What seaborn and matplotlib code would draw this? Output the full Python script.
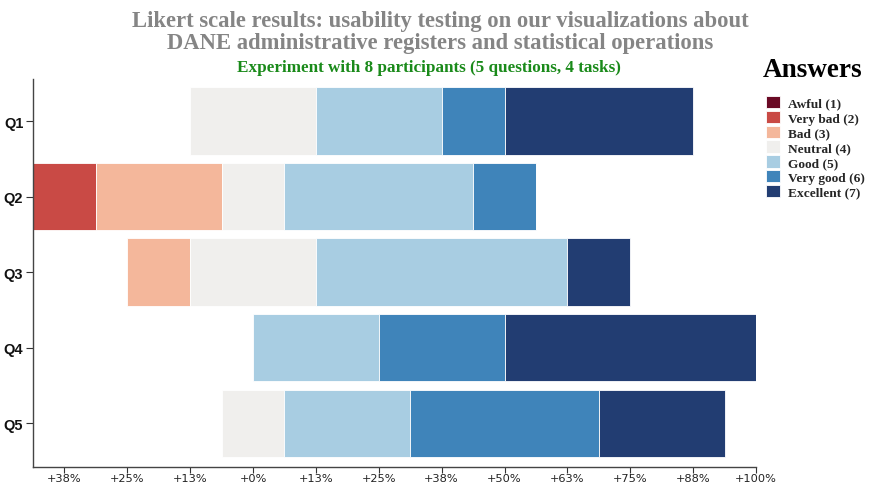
import numpy as np
import pandas as pd
import seaborn as sns
import matplotlib.pyplot as plt

questions = ['Q1', 'Q2', 'Q3', 'Q4', 'Q5']
answers = ['Awful (1)', 'Very bad (2)', 'Bad (3)', 'Neutral (4)',
           'Good (5)', 'Very good (6)', 'Excellent (7)']
# number of participants per answer (8 participants)
awful = [0, 0, 0, 0, 0]
very_bad = [0, 1, 0, 0, 0]
bad = [0, 2, 1, 0, 0]
neutral = [2, 1, 2, 0, 1]
good = [2, 3, 4, 2, 2]
very_good = [1, 1, 0, 2, 3]
excellent = [3, 0, 1, 4, 2]
n_participants = 8
tick_values = [-37.5, -25, -12.5, 0, 12.5, 25, 37.5, 50, 62.5, 75, 87.5, 100]

colors = ['#6a0a25', '#c94a45', '#f4b79b', '#f0efed', '#a8cde2', '#3f84ba', '#223d72']

counts = pd.DataFrame(np.array([awful, very_bad, bad, neutral, good, very_good, excellent]).T,
                      index=questions, columns=answers)
pct = counts / n_participants * 100
# diverging: neutral centred on zero
start = -(pct[answers[0]] + pct[answers[1]] + pct[answers[2]] + pct[answers[3]] / 2)

sns.set_style('ticks')
fig = plt.figure(figsize=[8.75, 4.85], dpi=100)
ax = fig.add_axes([33 / 875, 1 - 468 / 485, (756 - 33) / 875, (468 - 80) / 485])

left = start.copy()
for ans, col in zip(answers, colors):
    df = pd.DataFrame({'q': questions, 'w': pct[ans].values})
    sns.barplot(data=df, x='w', y='q', orient='h', left=left.values, color=col,
                saturation=1, width=0.89, errorbar=None, edgecolor='white',
                linewidth=0.6, ax=ax, label=ans)
    left = left + pct[ans]

handles, labels = ax.get_legend_handles_labels()
if ax.get_legend() is not None:
    ax.get_legend().remove()

ax.set_xlim(start.min(), 100)
ax.set_ylim(4.58, -0.556)
ax.set_xticks(tick_values)
ax.set_xticklabels(['+{:.0f}%'.format(abs(v) + 1e-9) for v in tick_values], fontsize=8.2,
                   color='#222222')
ax.set_xlabel('')
ax.set_ylabel('')
for lab in ax.get_yticklabels():
    lab.set_fontweight('bold')
    lab.set_fontfamily('Liberation Sans')
    lab.set_fontsize(10.5)
    lab.set_color('#111111')
ax.tick_params(axis='x', length=4, width=0.8, color='#333333', pad=0.5)
ax.tick_params(axis='y', length=5, width=0.8, color='#333333', pad=2)
for s in ['top', 'right']:
    ax.spines[s].set_visible(False)
for s in ['left', 'bottom']:
    ax.spines[s].set_color('#444444')
    ax.spines[s].set_linewidth(1)

fig.text(0.503, 0.978, 'Likert scale results: usability testing on our visualizations about\n'
         'DANE administrative registers and statistical operations',
         ha='center', va='top', fontsize=16.3, fontweight='bold', color='#858585',
         family='Liberation Serif', linespacing=1.1)
fig.text(0.49, 0.86, 'Experiment with 8 participants (5 questions, 4 tasks)',
         ha='center', va='center', fontsize=12.3, fontweight='bold', color='#1a8a1a',
         family='Liberation Serif')

fig.legend(handles, labels, loc='upper left', bbox_to_anchor=(0.875, 0.8),
           frameon=False, handlelength=1.1, handleheight=1.05, handletextpad=0.55,
           labelspacing=0.08, borderaxespad=0, borderpad=0,
           prop={'family': 'Liberation Serif', 'weight': 'bold', 'size': 9.6})
fig.text(0.929, 0.855, 'Answers', ha='center', va='center', fontsize=19.5,
         fontweight='bold', family='Liberation Serif', color='black')

plt.savefig('out.png', dpi=100)
